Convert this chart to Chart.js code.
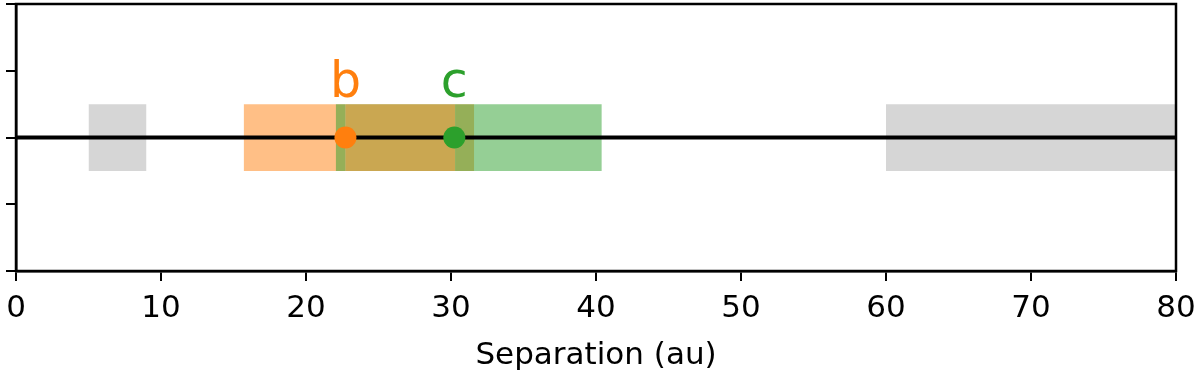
<!DOCTYPE html>
<html>
<head>
<meta charset="utf-8">
<script src="https://cdn.jsdelivr.net/npm/chart.js@4"></script>
<style>
html,body{margin:0;padding:0;background:#fff;}
#wrap{width:1200px;height:375px;}
</style>
</head>
<body>
<div id="wrap"><canvas id="sepChart" width="1200" height="375"></canvas></div>
<script>

// separation ranges (au), drawn bottom to top
const bandNames = ["inner","b low","b high","c range","b-c","outer"];
const bandStart = [5, 15.7, 30.28, 22.05, 22.7, 60];
const bandEnd = [9, 22.7, 31.6, 40.4, 30.28, 80];
const bandColors = ["#d6d6d6","rgba(255,127,14,0.5)","rgba(255,127,14,0.5)","rgba(44,160,44,0.5)","rgba(255,127,14,0.5)","#d6d6d6"];

// planets
const planetNames = ["b","c"];
const planetSep = [22.72, 30.23];
const planetColors = ["#ff7f0e","#2ca02c"];

const xTicks = [0,10,20,30,40,50,60,70,80];
const yTicks = [-2,-1,0,1,2];

const font = "'DejaVu Sans', sans-serif";

const datasets = [];

bandNames.forEach((name,i)=>{
datasets.push({
type:"line",
label:name,
data:[{x:bandStart[i],y:0.5},{x:bandEnd[i],y:0.5}],
borderWidth:0,
pointRadius:0,
backgroundColor:bandColors[i],
fill:{value:-0.5},
order:100-i
});
});

// axis line through y=0
datasets.push({
type:"line",
label:"axis",
data:[{x:xTicks[0],y:0},{x:xTicks[xTicks.length-1],y:0}],
borderColor:"#000",
borderWidth:4,
pointRadius:0,
fill:false,
order:10
});

planetNames.forEach((name,i)=>{
datasets.push({
type:"scatter",
label:name,
data:[{x:planetSep[i],y:0}],
pointRadius:11,
pointBackgroundColor:planetColors[i],
pointBorderWidth:0,
order:5-i
});
});

// frame + planet letters
const extras = {
id:"extras",
afterDatasetsDraw(chart){
const ctx = chart.ctx;
const xs = chart.scales.x;
const ys = chart.scales.y;
ctx.save();
ctx.font = "49px " + font;
ctx.textAlign = "center";
ctx.textBaseline = "alphabetic";
planetNames.forEach((name,i)=>{
ctx.fillStyle = planetColors[i];
ctx.fillText(name, xs.getPixelForValue(planetSep[i]), ys.getPixelForValue(0) - 41);
});
const a = chart.chartArea;
ctx.strokeStyle = "#000";
ctx.lineWidth = 2.5;
ctx.strokeRect(a.left, a.top, a.right - a.left, a.bottom - a.top);
ctx.restore();
}
};

new Chart(document.getElementById("sepChart"),{
data:{datasets:datasets},
options:{
responsive:false,
animation:false,
layout:{autoPadding:false,padding:{left:5,right:24,top:4,bottom:0}},
plugins:{legend:{display:false},tooltip:{enabled:false}},
scales:{
x:{
type:"linear",
min:0,
max:80,
afterBuildTicks:s=>{s.ticks = xTicks.map(v=>({value:v}));},
grid:{drawOnChartArea:false,drawTicks:true,tickLength:10,color:"#000",lineWidth:2},
border:{display:true,color:"#000",width:2.5},
ticks:{color:"#000",font:{family:font,size:31},padding:9,maxRotation:0},
title:{display:true,text:"Separation (au)",color:"#000",font:{family:font,size:31},padding:{top:2,bottom:0}},
afterFit:s=>{s.height = 104; s.paddingLeft = 0; s.paddingRight = 0;}
},
y:{
type:"linear",
min:-2,
max:2,
afterBuildTicks:s=>{s.ticks = yTicks.map(v=>({value:v}));},
grid:{drawOnChartArea:false,drawTicks:true,tickLength:10,color:"#000",lineWidth:2},
border:{display:true,color:"#000",width:2.5},
ticks:{callback:()=>"",padding:0,font:{size:1}},
afterFit:s=>{s.width = 11; s.paddingTop = 0; s.paddingBottom = 0;}
}
}
},
plugins:[extras]
});

</script>
</body>
</html>
